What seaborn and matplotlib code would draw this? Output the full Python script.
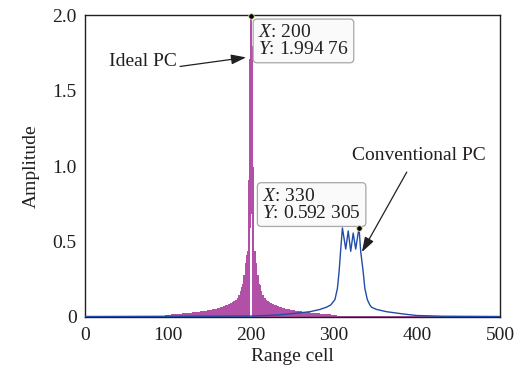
import numpy as np
import pandas as pd
import matplotlib
matplotlib.use("Agg")
import matplotlib.pyplot as plt
import seaborn as sns

# ---- data -------------------------------------------------------------
range_cells = np.arange(0, 501)

# ideal pulse compression: main peak, first nulls at +-3 cells,
# sidelobes at even offsets 4, 6, ... 102
ideal_peak_cell = 200
ideal_peak_amp = 1.99476
ideal_null_offset = 3
ideal_sidelobes = [
    0.43, 0.35, 0.27, 0.21, 0.165, 0.14, 0.12, 0.108, 0.098, 0.09,
    0.084, 0.078, 0.073, 0.069, 0.065, 0.061, 0.057, 0.054, 0.051, 0.048,
    0.045, 0.043, 0.041, 0.039, 0.037, 0.035, 0.033, 0.031, 0.029, 0.028,
    0.026, 0.025, 0.024, 0.023, 0.021, 0.020, 0.019, 0.018, 0.017, 0.016,
    0.015, 0.014, 0.013, 0.012, 0.011, 0.010, 0.009, 0.008, 0.007, 0.006,
]

# conventional pulse compression
conv_peak_cell = 330
conv_peak_amp = 0.592305
conv_cells = [0, 200, 231, 250, 271, 283, 291, 296, 301, 304, 306, 308, 310,
              314, 317, 320, 323, 326, conv_peak_cell, 332, 335, 337, 340,
              343, 345, 351, 363, 383, 399, 430, 500]
conv_amp = [0.003, 0.006, 0.013, 0.022, 0.035, 0.05, 0.065, 0.08, 0.115,
            0.19, 0.30, 0.45, 0.59, 0.45, 0.57, 0.435, 0.556, 0.45,
            conv_peak_amp, 0.435, 0.30, 0.19, 0.115, 0.08, 0.065, 0.05,
            0.035, 0.02, 0.01, 0.005, 0.003]

x_ticks = [0, 100, 200, 300, 400, 500]
y_ticks = [0, 0.5, 1.0, 1.5, 2.0]
y_tick_labels = ["0", "0.5", "1.0", "1.5", "2.0"]

# ---- build the ideal series ------------------------------------------
ideal_amp = np.zeros(len(range_cells))
ideal_amp[ideal_peak_cell] = ideal_peak_amp
for i, v in enumerate(ideal_sidelobes):
    off = 2 * i + 4
    ideal_amp[ideal_peak_cell - off] = v
    ideal_amp[ideal_peak_cell + off] = v

# the main lobe runs straight from the first null to the peak
dist = np.abs(range_cells - ideal_peak_cell)
keep = (dist == 0) | (dist >= ideal_null_offset)
ideal_df = pd.DataFrame({"cell": range_cells[keep], "amp": ideal_amp[keep]})
conv_df = pd.DataFrame({"cell": conv_cells, "amp": conv_amp})

# ---- style ------------------------------------------------------------
sns.set_theme(style="white")
plt.rcParams["font.family"] = ["Liberation Serif", "DejaVu Serif"]
plt.rcParams["mathtext.fontset"] = "custom"
plt.rcParams["mathtext.rm"] = "Liberation Serif"
plt.rcParams["mathtext.it"] = "Liberation Serif:italic"

ink = "#231F20"
magenta = "#B24FA6"
blue = "#1F4DA8"
fs = 14

fig = plt.figure(figsize=(5.31, 3.69), dpi=100)
ax = fig.add_axes([0.160, 0.141, 0.782, 0.818])

# the dense sidelobe ringing reads as a solid band, so draw it without
# antialiasing to keep the columns fully covered
sns.lineplot(data=ideal_df, x="cell", y="amp", color=magenta,
             linewidth=1.0, antialiased=False, ax=ax, zorder=2)
sns.lineplot(data=conv_df, x="cell", y="amp", color=blue,
             linewidth=1.0, ax=ax, zorder=3)

ax.set_xlim(0, 500)
ax.set_ylim(0, 2.0)
ax.set_xticks(x_ticks)
ax.set_xticklabels([str(t) for t in x_ticks])
ax.set_yticks(y_ticks)
ax.set_yticklabels(y_tick_labels)
ax.tick_params(direction="in", length=4, width=0.8, colors=ink,
               labelsize=fs, top=False, right=False, pad=6)
ax.tick_params(axis="x", pad=7)
for sp in ax.spines.values():
    sp.set_color(ink)
    sp.set_linewidth(1.0)

ax.set_xlabel("Range cell", fontsize=fs, color=ink, labelpad=3)
ax.set_ylabel("Amplitude", fontsize=fs, color=ink, labelpad=9)


# ---- data tips ----------------------------------------------------------
def grouped(v):
    s = f"{v:.6g}"
    whole, frac = s.split(".")
    parts = [frac[i:i + 3] for i in range(0, len(frac), 3)]
    return whole + "." + " ".join(parts)


tips = pd.DataFrame({"cell": [ideal_peak_cell, conv_peak_cell],
                     "amp": [ideal_peak_amp, conv_peak_amp]})
sns.scatterplot(data=tips, x="cell", y="amp", color="black", s=16,
                edgecolor="#E9E2A8", linewidth=0.6, ax=ax, zorder=6,
                clip_on=False)

box = dict(boxstyle="round,pad=0.25,rounding_size=0.2",
           facecolor="#FAFAFA", edgecolor="#A8A8A8", linewidth=0.9)

ax.annotate(f"$X$: {ideal_peak_cell}\n$Y$: {grouped(ideal_peak_amp)}",
            xy=(ideal_peak_cell, ideal_peak_amp), xytext=(7, -8),
            textcoords="offset pixels", ha="left", va="top",
            multialignment="left",
            fontsize=fs, color=ink, linespacing=1.0, bbox=box, zorder=5)
ax.annotate(f"$X$: {conv_peak_cell}\n$Y$: {grouped(conv_peak_amp)}",
            xy=(conv_peak_cell, conv_peak_amp), xytext=(2, 6),
            textcoords="offset pixels", ha="right", va="bottom",
            multialignment="left",
            fontsize=fs, color=ink, linespacing=1.0, bbox=box, zorder=5)

# ---- curve labels with arrows ------------------------------------------
arrow = dict(arrowstyle="-|>,head_length=0.9,head_width=0.3",
             color=ink, linewidth=0.9, mutation_scale=10,
             shrinkA=0, shrinkB=0)

ax.text(110.5, 1.695, "Ideal PC", ha="right", va="center",
        fontsize=fs, color=ink)
ax.annotate("", xy=(194.0, 1.72), xytext=(114.5, 1.66),
            arrowprops=arrow)

ax.text(402.5, 1.073, "Conventional PC", ha="center", va="center",
        fontsize=fs, color=ink)
ax.annotate("", xy=(333.5, 0.43), xytext=(387.5, 0.96),
            arrowprops=arrow)

fig.savefig("out.png", dpi=100)
